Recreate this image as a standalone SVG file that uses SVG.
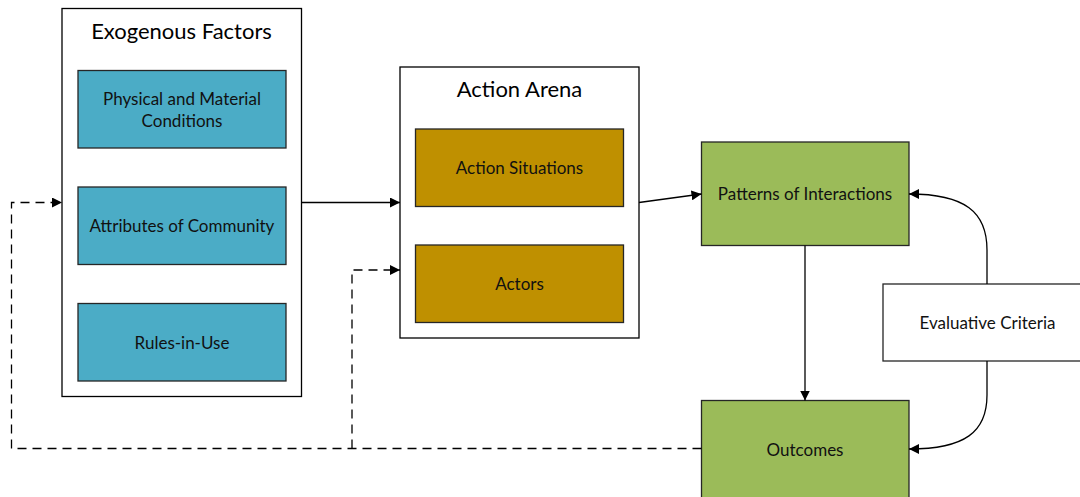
<svg xmlns="http://www.w3.org/2000/svg" width="1080" height="497" viewBox="0 0 1080 497">
  <style>
    .frame { fill: #ffffff; stroke: #000000; stroke-width: 1.3; }
    .blue { fill: #4BACC6; stroke: #262626; stroke-width: 1.3; }
    .gold { fill: #BF9000; stroke: #262626; stroke-width: 1.3; }
    .green { fill: #9BBB59; stroke: #262626; stroke-width: 1.3; }
    .white { fill: #ffffff; stroke: #262626; stroke-width: 1.3; }
    .title { font-family: Lato, "Liberation Sans", sans-serif; font-size: 22px; fill: #000000; text-anchor: middle; }
    .label { font-family: Lato, "Liberation Sans", sans-serif; font-size: 17px; fill: #111111; text-anchor: middle; }
    .solid { fill: none; stroke: #000000; stroke-width: 1.3; }
    .dash { fill: none; stroke: #000000; stroke-width: 1.3; stroke-dasharray: 9 6; }
  </style>
  <defs>
    <marker id="arrow" viewBox="0 0 10 10" refX="10" refY="5" markerWidth="10" markerHeight="10" markerUnits="userSpaceOnUse" orient="auto">
      <path d="M0,0 L10,5 L0,10 Z" fill="#000000"/>
    </marker>
  </defs>

  <rect width="1080" height="497" fill="#ffffff"/>

  <!-- Exogenous factors and their three components -->
  <g id="exogenous-factors">
    <rect class="frame" x="62" y="8.5" width="239.5" height="388"/>
    <text class="title" x="181.5" y="39">Exogenous Factors</text>
  </g>
  <g id="physical-conditions">
    <rect class="blue" x="78" y="70.5" width="208" height="77.5"/>
    <text class="label" x="182" y="104.5">Physical and Material</text>
    <text class="label" x="182" y="126.5">Conditions</text>
  </g>
  <g id="attributes-of-community">
    <rect class="blue" x="78" y="187" width="208" height="77.5"/>
    <text class="label" x="182" y="232">Attributes of Community</text>
  </g>
  <g id="rules-in-use">
    <rect class="blue" x="78" y="303.5" width="208" height="77.5"/>
    <text class="label" x="182" y="349">Rules-in-Use</text>
  </g>

  <!-- Action arena -->
  <g id="action-arena">
    <rect class="frame" x="400" y="67" width="239" height="271"/>
    <text class="title" x="519.5" y="97">Action Arena</text>
  </g>
  <g id="action-situations">
    <rect class="gold" x="415.5" y="129" width="208" height="77.5"/>
    <text class="label" x="519.5" y="174">Action Situations</text>
  </g>
  <g id="actors">
    <rect class="gold" x="415.5" y="245" width="208" height="77.5"/>
    <text class="label" x="519.5" y="290">Actors</text>
  </g>

  <!-- Results and evaluation -->
  <g id="patterns-of-interactions">
    <rect class="green" x="701.5" y="142" width="207.5" height="103.5"/>
    <text class="label" x="805" y="200">Patterns of Interactions</text>
  </g>
  <g id="outcomes">
    <rect class="green" x="701.5" y="400.5" width="207.5" height="110"/>
    <text class="label" x="805" y="456">Outcomes</text>
  </g>
  <g id="evaluative-criteria">
    <rect class="white" x="883" y="284" width="210" height="77"/>
    <text class="label" x="987.5" y="329">Evaluative Criteria</text>
  </g>

  <g id="connectors">
    <path class="solid" d="M301.5,202.5 L400,202.5" marker-end="url(#arrow)"/>
    <path class="solid" d="M639,202.5 L701.5,194" marker-end="url(#arrow)"/>
    <path class="solid" d="M805,245.5 L805,400.5" marker-end="url(#arrow)"/>
    <path class="solid" d="M987,284 L987,250 C987,212 965,194 909,194" marker-end="url(#arrow)"/>
    <path class="solid" d="M987,361 L987,395 C987,432 965,449 909,449" marker-end="url(#arrow)"/>
    <!-- feedback from outcomes -->
    <path class="dash" d="M701.5,448.5 L11.5,448.5 L11.5,202.5 L62,202.5" marker-end="url(#arrow)"/>
    <path class="dash" d="M352,448.5 L352,270 L400,270" marker-end="url(#arrow)"/>
  </g>
</svg>
